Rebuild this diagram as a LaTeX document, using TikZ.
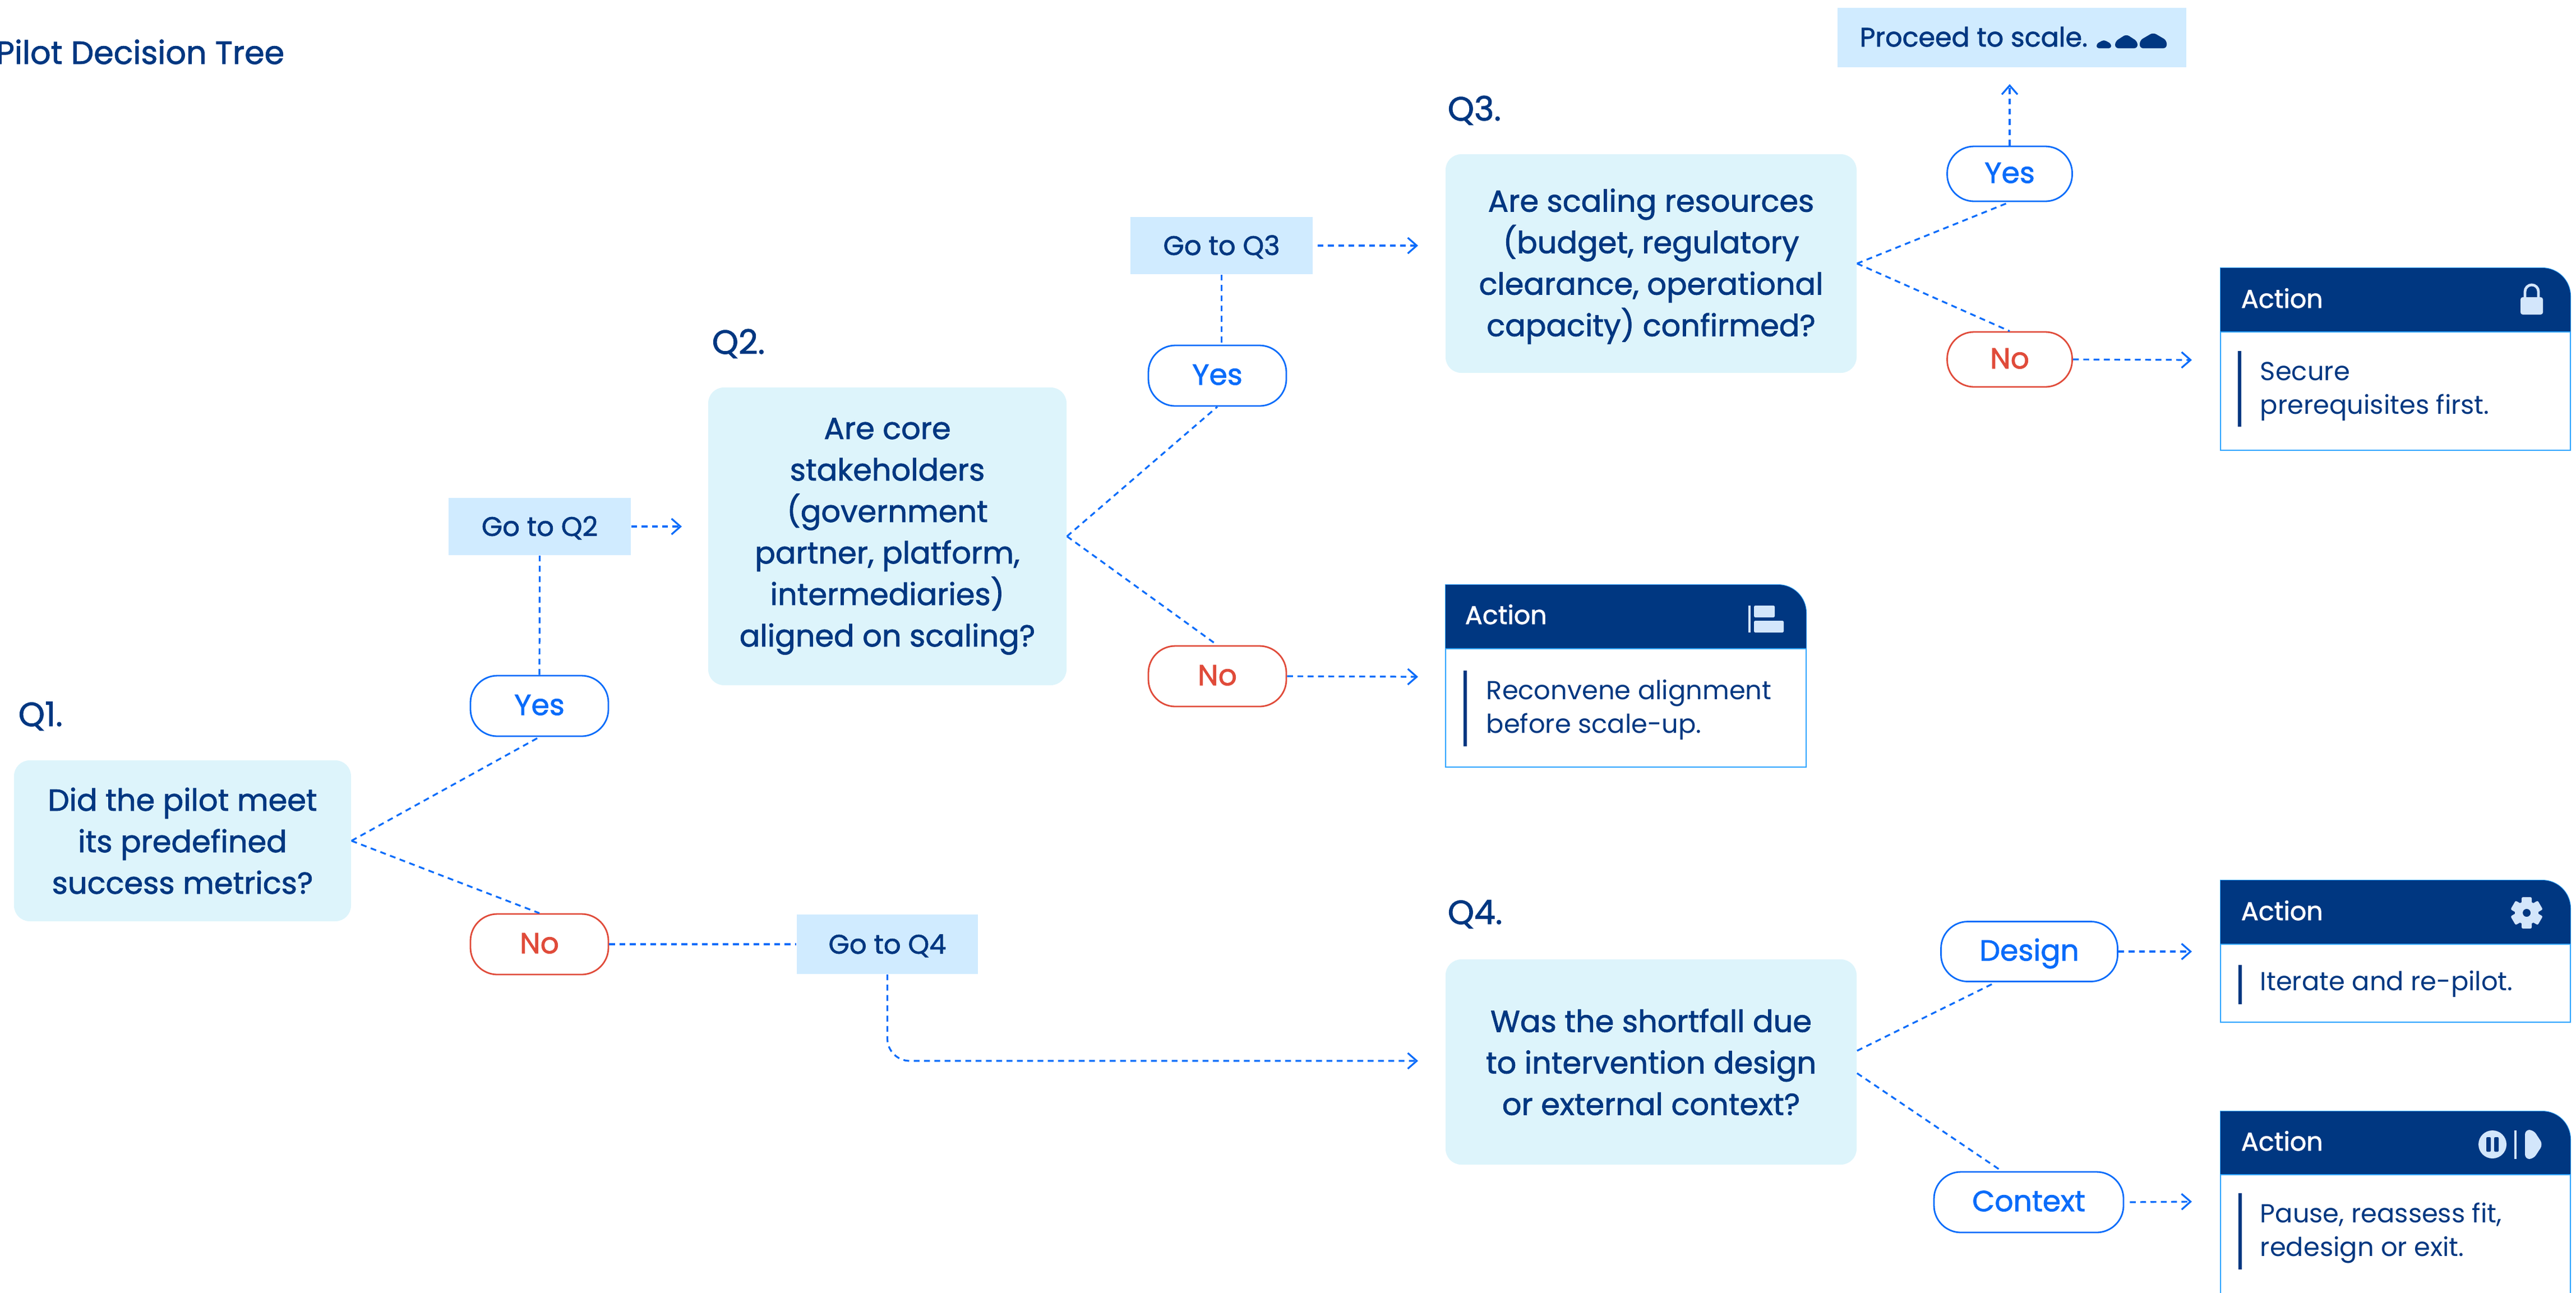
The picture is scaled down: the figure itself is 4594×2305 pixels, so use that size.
\documentclass[tikz,border=0pt]{standalone}
\usepackage{fontspec}
\setmainfont{Poppins}
\newfontfamily\medfont[FakeBold=1.5]{Poppins}
\usetikzlibrary{arrows.meta,calc}
\definecolor{navy}{HTML}{003781}
\definecolor{brightblue}{HTML}{0A6CFA}
\definecolor{redline}{HTML}{E04B3A}
\definecolor{qfill}{HTML}{DDF4FB}
\definecolor{gofill}{HTML}{D0EBFF}
\definecolor{cardline}{HTML}{2FA5FF}
\definecolor{iconfill}{HTML}{D3E6FB}
\tikzset{
  qbox/.style={fill=qfill,rounded corners=7pt,align=center,text=navy,inner sep=0pt,
    minimum width=183.25pt,font=\fontsize{13.55}{18.5}\selectfont\medfont},
  qlabel/.style={anchor=base west,text=navy,inner sep=0pt,font=\fontsize{15}{18}\selectfont\medfont},
  gobox/.style={fill=gofill,text=navy,inner sep=0pt,minimum width=81.25pt,minimum height=25.5pt,
    text height=10.4pt,text depth=2pt,font=\fontsize{12}{14}\selectfont\medfont},
  yespill/.style={draw=brightblue,line width=.7pt,fill=white,text=brightblue,rounded corners=12pt,inner sep=0pt,
    minimum width=61.5pt,minimum height=27pt,text height=11.1pt,text depth=3pt,font=\fontsize{13}{16}\selectfont\medfont},
  nopill/.style={yespill,draw=redline,text=redline},
  flow/.style={draw=brightblue,line width=.8pt,dash pattern=on 2.6pt off 2pt},
  flowarrow/.style={flow,-{Straight Barb[length=4pt,width=7pt]}},
  cardhead/.style={anchor=base west,text=white,inner sep=0pt,font=\fontsize{11.5}{14}\selectfont\medfont},
  cardtext/.style={anchor=base west,align=left,text=navy,inner sep=0pt,font=\fontsize{11.6}{15}\selectfont},
  cardbar/.style={draw=navy,line width=1.3pt},
  icon/.style={fill=iconfill},
}
\newcommand{\actioncard}[5]{% x1, x2, top, header bottom, bottom
  \fill[white] (#1,#3) rectangle (#2,#5);
  \draw[cardline,line width=.5pt] (#1,#5) -- (#1,#3) [rounded corners=12.5pt] -- (#2,#3) [sharp corners] -- (#2,#5) -- cycle;
  \fill[navy] (#1,#4) -- (#1,#3) [rounded corners=12.5pt] -- (#2,#3) [sharp corners] -- (#2,#4) -- cycle;
  \draw[cardline,line width=.5pt] (#1,#4) -- (#2,#4);
}
\begin{document}
\begin{tikzpicture}[x=.25pt,y=-.25pt]
\useasboundingbox (0,0) rectangle (4594,2305);
\clip (0,0) rectangle (4594,2305);

% Title and question labels
\node[qlabel,font=\fontsize{14.3}{18}\selectfont\medfont] (title) at (-8,114) {Pilot Decision Tree};
\node[qlabel] (l1) at (32,1295) {Q1.};
\node[qlabel] (l2) at (1269,631) {Q2.};
\node[qlabel] (l3) at (2581,215) {Q3.};
\node[qlabel] (l4) at (2581,1648) {Q4.};

% Question boxes
\node[qbox,minimum width=150.25pt,minimum height=71.75pt] (q1) at (325.5,1499.5) {Did the pilot meet\\its predefined\\success metrics?};
\node[qbox,minimum width=159.75pt,minimum height=132.75pt] (q2) at (1582.5,956.5) {Are core\\stakeholders\\(government\\partner, platform,\\intermediaries)\\aligned on scaling?};
\node[qbox,minimum height=97.5pt] (q3) at (2944.5,470) {\rule{0pt}{12.8pt}Are scaling resources\\(budget, regulatory\\clearance, operational\\capacity) confirmed?};
\node[qbox,minimum height=91.5pt] (q4) at (2944.5,1894) {Was the shortfall due\\to intervention design\\or external context?};

% Go-to boxes
\node[gobox] (go2) at (962.5,939) {Go to Q2};
\node[gobox] (go3) at (2178.5,438) {Go to Q3};
\node[gobox,minimum width=80.75pt,minimum height=26.5pt] (go4) at (1582.5,1684) {Go to Q4};
\node[gobox,minimum width=155.5pt,minimum height=26.5pt] (proceed) at (3588,67) {};
\node[anchor=base west,text=navy,inner sep=0pt,font=\fontsize{11.9}{14}\selectfont\medfont] (proceedtext) at (3316,83) {Proceed to scale.};

% Answer pills
\node[yespill] (y1) at (962,1259) {Yes};
\node[nopill] (n1) at (962,1684) {No};
\node[yespill] (y2) at (2171,670) {Yes};
\node[nopill] (n2) at (2171,1206) {No};
\node[yespill,minimum width=55.75pt,minimum height=24.5pt] (y3) at (3584,310) {Yes};
\node[nopill,minimum width=55.75pt,minimum height=24.5pt] (n3) at (3584,641) {No};
\node[yespill,minimum width=78.75pt,minimum height=26.75pt] (design) at (3619,1697) {Design};
\node[yespill,minimum width=84.5pt] (context) at (3618,2144) {Context};

% Free arrow ends
\coordinate (e2) at (1216,939);
\coordinate (e3) at (2529,438);
\coordinate (e4) at (2529,1892);
\coordinate (ea2) at (2529,1207);
\coordinate (ea1) at (3909,642);
\coordinate (ea3) at (3909,1697);
\coordinate (ea4) at (3909,2143);
\coordinate (ep) at (3584,150);

% Connectors
\draw[flow] (q1.east) -- (y1.south);
\draw[flow] (q1.east) -- (n1.north);
\draw[flow] (y1.north) -- (go2.south);
\draw[flowarrow] (go2.east) -- (e2);
\draw[flow] (n1.east) -- (go4.west);
\draw[flowarrow,rounded corners=10pt] (go4.south) |- (e4);
\draw[flow] (q2.east) -- (y2.south);
\draw[flow] (q2.east) -- (n2.north);
\draw[flow] (go3.south) -- (go3.south |- y2.north);
\draw[flowarrow] ([xshift=2pt]go3.east) -- (e3);
\draw[flowarrow] (n2.east) -- (ea2);
\draw[flow] (q3.east) -- (y3.south);
\draw[flow] (q3.east) -- (n3.north);
\draw[flowarrow] (y3.north) -- (ep);
\draw[flowarrow] (n3.east) -- (ea1);
\draw[flow] ([yshift=5pt]q4.east) -- ([xshift=-15pt]design.south);
\draw[flow] ([yshift=-5pt]q4.east) -- ([xshift=-12pt]context.north);
\draw[flowarrow] (design.east) -- (ea3);
\draw[flowarrow] ([xshift=2.5pt]context.east) -- (ea4);

% Scale marks in the Proceed box
\fill[navy,rounded corners=1pt] (3739,86) -- (3739,78) -- (3752,71) -- (3765,78) -- (3765,86) -- cycle;
\fill[navy,rounded corners=1.5pt] (3772,86) -- (3772,74) -- (3792,61) -- (3812,74) -- (3812,86) -- cycle;
\fill[navy,rounded corners=1.5pt] (3816,86) -- (3816,72) -- (3840,58) -- (3864,72) -- (3864,86) -- cycle;

% Action cards
\actioncard{3960}{4584}{478}{592}{803}
\node[cardhead] (ah1) at (3996,549) {Action};
\draw[cardbar] (3994,626) -- (3994,761);
\node[cardtext] (at1) at (4030,738) {Secure\\prerequisites first.};

\actioncard{2578}{3221}{1043}{1157}{1368}
\node[cardhead] (ah2) at (2612,1113) {Action};
\draw[cardbar] (2613,1196) -- (2613,1331);
\node[cardtext] (at2) at (2650,1307) {Reconvene alignment\\before scale-up.};

\actioncard{3960}{4584}{1570}{1684}{1823}
\node[cardhead] (ah3) at (3996,1641) {Action};
\draw[cardbar] (3995,1721) -- (3995,1791);
\node[cardtext] (at3) at (4030,1766) {Iterate and re-pilot.};

\actioncard{3960}{4584}{1982}{2095}{2400}
\node[cardhead] (ah4) at (3996,2052) {Action};
\draw[cardbar] (3995,2128) -- (3995,2264);
\node[cardtext] (at4) at (4030,2240) {Pause, reassess fit,\\redesign or exit.};

% Icons
\draw[iconfill,line width=1.2pt] (4503,532) -- (4503,520) arc[start angle=180,end angle=360,radius=12] -- (4527,532);
\fill[icon,rounded corners=1pt] (4495,530) rectangle (4535,561);

\fill[icon] (3118,1080) rectangle (3122,1128);
\fill[icon,rounded corners=.6pt] (3128,1080) rectangle (3165,1101);
\fill[icon,rounded corners=.6pt] (3128,1107) rectangle (3181,1128);

\foreach \a in {0,60,120} {
  \fill[icon,rounded corners=.6pt,rotate around={\a:(4506,1628)}] (4497,1600) rectangle (4515,1656);
}
\fill[icon] (4506,1628) circle[radius=21];
\fill[navy] (4506,1628) circle[radius=7];

\fill[icon] (4445,2041) circle[radius=25];
\fill[navy,rounded corners=.5pt] (4434,2028) rectangle (4442,2054);
\fill[navy,rounded corners=.5pt] (4448,2028) rectangle (4456,2054);
\fill[icon] (4484,2016) rectangle (4488,2067);
\fill[icon,rounded corners=2pt] (4503,2015) -- (4518,2015) -- (4535,2041) -- (4518,2067) -- (4503,2067) -- cycle;
\end{tikzpicture}
\end{document}
